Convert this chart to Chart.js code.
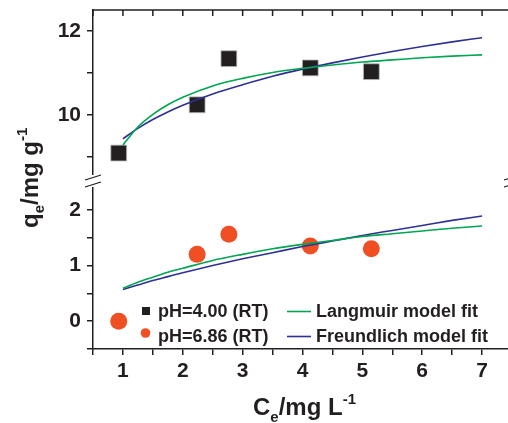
<!DOCTYPE html>
<html>
<head>
<meta charset="utf-8">
<script src="https://cdn.jsdelivr.net/npm/chart.js@4.4.0/dist/chart.umd.min.js"></script>
<style>
html, body { margin: 0; padding: 0; background: #fff; overflow: hidden; }
canvas { display: block; }
</style>
</head>
<body>
<canvas id="isoChart" width="520" height="423"></canvas>
<script>
// measured points (Ce in mg/L, qe in mg/g)
const ceData = [0.93, 2.24, 2.77, 4.13, 5.15];
const qePH4 = [9.09, 10.24, 11.34, 11.12, 11.03];
const qePH686 = [0.0, 1.20, 1.56, 1.35, 1.30];

// fit curves
const fitCe = [1, 1.25, 1.5, 1.75, 2, 2.5, 3, 3.5, 4, 4.5, 5, 5.5, 6, 6.5, 7];
const langTop = [9.28, 9.71, 10.01, 10.24, 10.42, 10.69, 10.87, 11.01, 11.11, 11.19, 11.26, 11.31, 11.36, 11.40, 11.43];
const freuTop = [9.43, 9.68, 9.89, 10.07, 10.23, 10.50, 10.72, 10.92, 11.09, 11.24, 11.38, 11.51, 11.63, 11.74, 11.84];
const langBot = [0.59, 0.70, 0.79, 0.88, 0.95, 1.09, 1.20, 1.30, 1.38, 1.45, 1.52, 1.57, 1.62, 1.67, 1.71];
const freuBot = [0.57, 0.65, 0.73, 0.80, 0.87, 1.00, 1.12, 1.23, 1.34, 1.44, 1.54, 1.63, 1.72, 1.81, 1.89];

// ticks
const xTicks = [0.5, 1, 1.5, 2, 2.5, 3, 3.5, 4, 4.5, 5, 5.5, 6, 6.5, 7];
const yTopTicks = [9, 10, 11, 12];
const yBotTicks = [-0.5, 0, 0.5, 1, 1.5, 2];

const FONT = '"Liberation Sans", Arial, sans-serif';
const INK = '#231f20';
const GREEN = '#00a651';
const BLUE = '#2e3192';
const ORANGE = '#f04e23';

function pts(xs, ys) { return xs.map((x, i) => ({ x: x, y: ys[i] })); }

function lineSet(label, xs, ys, color, axis) {
    return {
        type: 'line', label: label, data: pts(xs, ys), yAxisID: axis,
        borderColor: color, borderWidth: 1.6, pointRadius: 0,
        cubicInterpolationMode: 'monotone', fill: false, order: 0
    };
}

function runs(ctx, parts, x, y) {
    let cx = x;
    parts.forEach(p => {
        ctx.font = 'bold ' + p[1] + 'px ' + FONT;
        ctx.fillText(p[0], cx, y + p[2]);
        cx += ctx.measureText(p[0]).width;
    });
}

// titles, legend, top axis, axis break
const decor = {
    id: 'decor',
    afterDraw(chart) {
        const ctx = chart.ctx, a = chart.chartArea, xs = chart.scales.x;
        const yT = chart.scales.yTop;
        ctx.save();
        ctx.strokeStyle = INK; ctx.lineWidth = 1.5;
        // top border + inward ticks
        ctx.beginPath();
        ctx.moveTo(a.left, a.top); ctx.lineTo(a.right, a.top);
        xTicks.forEach(v => {
            const px = xs.getPixelForValue(v);
            ctx.moveTo(px, a.top); ctx.lineTo(px, a.top + 6);
        });
        ctx.moveTo(a.right, a.top); ctx.lineTo(a.right, a.bottom);
        ctx.stroke();

        // axis break
        const by = yT.bottom - 1;
        ctx.fillStyle = '#fff';
        ctx.fillRect(a.left - 2, by - 6, 4, 12);
        ctx.fillRect(a.right - 2, by - 6, 4, 12);
        ctx.lineWidth = 1.3;
        ctx.beginPath();
        [a.left, a.right].forEach(bx => {
            ctx.moveTo(bx - 8, by - 1); ctx.lineTo(bx + 8, by - 6);
            ctx.moveTo(bx - 8, by + 6); ctx.lineTo(bx + 8, by + 1);
        });
        ctx.stroke();

        // axis titles
        ctx.fillStyle = INK;
        ctx.textBaseline = 'alphabetic';
        ctx.textAlign = 'left';
        runs(ctx, [['C', 24, 0], ['e', 15, 7], ['/mg L', 24, 0], ['-1', 15, -11]], 253, 415);
        ctx.save();
        ctx.translate(38, 228);
        ctx.rotate(-Math.PI / 2);
        runs(ctx, [['q', 24, 0], ['e', 15, 6], ['/mg g', 24, 0], ['-1', 15, -11]], 0, 0);
        ctx.restore();

        // legend
        ctx.font = 'bold 18px ' + FONT;
        ctx.fillStyle = INK;
        ctx.fillRect(142, 307, 8, 8);
        ctx.fillText('pH=4.00 (RT)', 158, 317);
        ctx.fillStyle = ORANGE;
        ctx.beginPath(); ctx.arc(145.5, 333, 4.8, 0, Math.PI * 2); ctx.fill();
        ctx.fillStyle = INK;
        ctx.fillText('pH=6.86 (RT)', 158, 342);
        ctx.lineWidth = 1.6;
        ctx.strokeStyle = GREEN;
        ctx.beginPath(); ctx.moveTo(287, 311.5); ctx.lineTo(311, 311.5); ctx.stroke();
        ctx.strokeStyle = BLUE;
        ctx.beginPath(); ctx.moveTo(287, 336.5); ctx.lineTo(311, 336.5); ctx.stroke();
        ctx.fillText('Langmuir model fit', 316, 317);
        ctx.fillText('Freundlich model fit', 316, 342);
        ctx.restore();
    }
};

const tickFont = { family: FONT, size: 21, weight: 'bold' };

function yAxis(min, max, ticks, weight, showLabel) {
    return {
        type: 'linear', position: 'left', stack: 'q', stackWeight: weight,
        min: min, max: max,
        afterBuildTicks: s => { s.ticks = ticks.map(v => ({ value: v })); },
        afterFit: s => { s.width = 93; s.paddingTop = 0; s.paddingBottom = 0; },
        grid: { drawOnChartArea: false, tickLength: 6, color: INK, lineWidth: 1.5 },
        border: { color: INK, width: 1.5 },
        ticks: { font: tickFont, color: INK, padding: 6, autoSkip: false,
            callback: v => showLabel(v) ? String(v) : '' }
    };
}

new Chart(document.getElementById('isoChart'), {
    type: 'scatter',
    data: {
        datasets: [
            lineSet('Langmuir model fit', fitCe, langTop, GREEN, 'yTop'),
            lineSet('Freundlich model fit', fitCe, freuTop, BLUE, 'yTop'),
            lineSet('Langmuir model fit', fitCe, langBot, GREEN, 'yBot'),
            lineSet('Freundlich model fit', fitCe, freuBot, BLUE, 'yBot'),
            {
                label: 'pH=4.00 (RT)', data: pts(ceData, qePH4), yAxisID: 'yTop',
                pointStyle: 'rect', pointRadius: 11.2, backgroundColor: INK,
                borderColor: '#bbb', borderWidth: 0.8, order: 1
            },
            {
                label: 'pH=6.86 (RT)', data: pts(ceData, qePH686), yAxisID: 'yBot',
                pointStyle: 'circle', pointRadius: 8.5, backgroundColor: ORANGE,
                borderColor: ORANGE, borderWidth: 0, order: 1
            }
        ]
    },
    options: {
        responsive: false,
        animation: false,
        layout: { autoPadding: false, padding: { top: 10, right: 8, left: 0, bottom: 0 } },
        plugins: { legend: { display: false }, tooltip: { enabled: false } },
        scales: {
            x: {
                type: 'linear', position: 'bottom', min: 0.5, max: 7.5,
                afterBuildTicks: s => { s.ticks = xTicks.map(v => ({ value: v })); },
                afterFit: s => { s.height = 74; s.paddingLeft = 0; s.paddingRight = 0; },
                grid: { drawOnChartArea: false, tickLength: 6, color: INK, lineWidth: 1.5 },
                border: { color: INK, width: 1.5 },
                ticks: { font: tickFont, color: INK, padding: 4, autoSkip: false, maxRotation: 0,
                    callback: v => Number.isInteger(v) ? String(v) : '' }
            },
            // stacked left axes: first listed is drawn at the top of the stack
            yBot: yAxis(-0.5, 2.5, yBotTicks, 167, v => Number.isInteger(v)),
            yTop: yAxis(8.4, 12.5, yTopTicks, 172, v => v % 2 === 0)
        }
    },
    plugins: [decor]
});
</script>
</body>
</html>
